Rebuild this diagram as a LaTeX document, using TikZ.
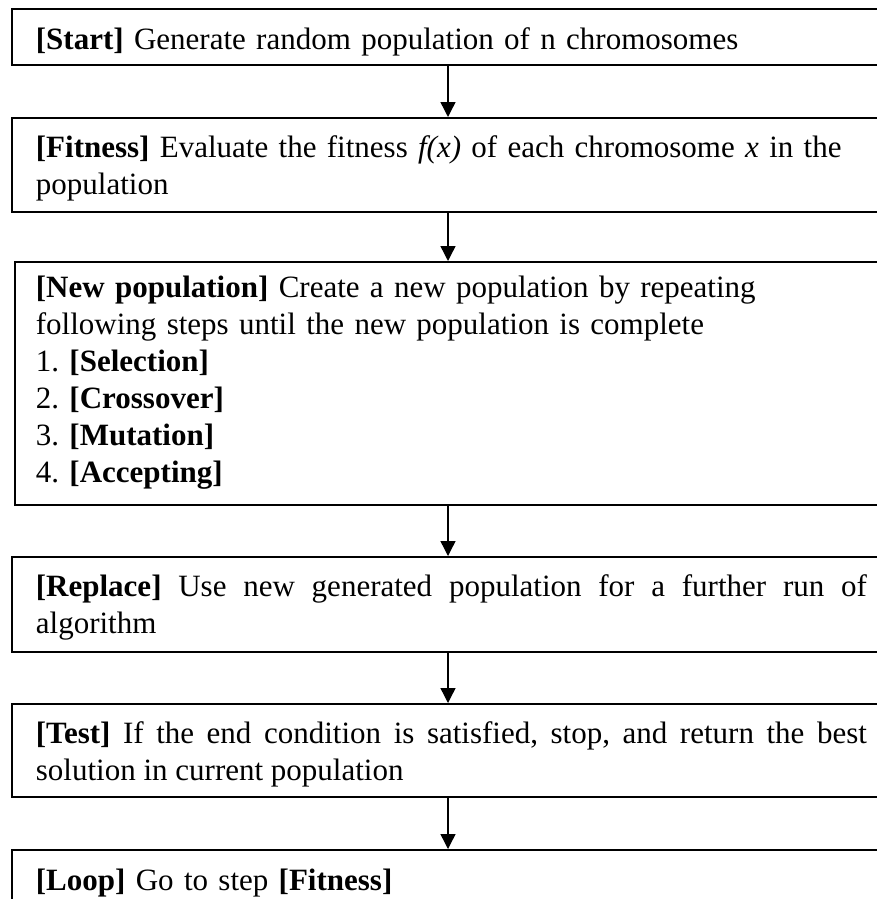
\documentclass[tikz,border=0pt]{standalone}
\usepackage{fontspec}
\setmainfont{Liberation Serif}
\usetikzlibrary{arrows.meta}

\newcommand\stagefont{\fontsize{31}{37}\selectfont\frenchspacing
	\hyphenpenalty=10000\relax\exhyphenpenalty=10000\relax}

\begin{document}
\begin{tikzpicture}[x=1pt, y=-1pt,
	stage/.style={draw, line width=1.8pt, anchor=north west, inner xsep=24pt, inner ysep=0pt,
		text width=831pt, align=left, text height=40pt, font=\stagefont},
	flow/.style={line width=1.4pt, -{Triangle[length=15pt, width=15pt]}}
	]
	
	% Page frame
	\useasboundingbox (0,0) rectangle (876,899);
	
	% Arrow axis
	\coordinate (axis) at (448,0);
	
	% Steps
	\node [stage, text height=41pt, text depth=15pt] (start) at (11,8)
		{\textbf{[Start]} Generate random population of n chromosomes};
	\node [stage, text depth=54pt] (fitness) at (11,117)
		{\textbf{[Fitness]} Evaluate the fitness \textit{f(x)} of each chromosome \textit{x} in the\\ population};
	\node [stage, inner xsep=21pt, text height=36pt, text depth=207pt] (newpop) at (14,261)
		{\textbf{[New population]} Create a new population by repeating\\
		following steps until the new population is complete\\
		1. \textbf{[Selection]}\\
		2. \textbf{[Crossover]}\\
		3. \textbf{[Mutation]}\\
		4. \textbf{[Accepting]}};
	\node [stage, align=justify, text depth=55pt] (replace) at (11,556)
		{\textbf{[Replace]} Use new generated population for a further run of algorithm};
	\node [stage, align=justify, text depth=53pt] (test) at (11,703)
		{\textbf{[Test]} If the end condition is satisfied, stop, and return the best solution in current population};
	\node [stage, text height=41pt, text depth=29pt] (loop) at (11,849)
		{\textbf{[Loop]} Go to step \textbf{[Fitness]}};
	
	% Flow arrows
	\draw [flow] (start.south -| axis)   -- (fitness.north -| axis);
	\draw [flow] (fitness.south -| axis) -- (newpop.north -| axis);
	\draw [flow] (newpop.south -| axis)  -- (replace.north -| axis);
	\draw [flow] (replace.south -| axis) -- (test.north -| axis);
	\draw [flow] (test.south -| axis)    -- (loop.north -| axis);
	
\end{tikzpicture}
\end{document}
